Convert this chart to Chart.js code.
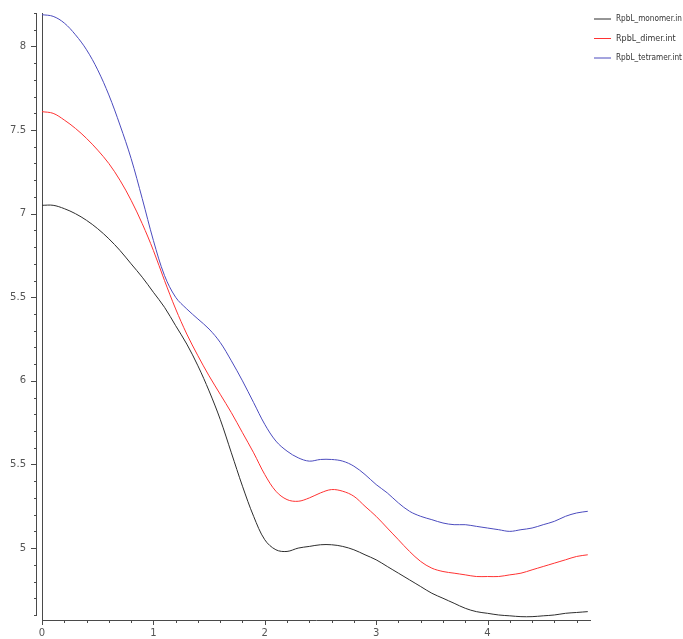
<!DOCTYPE html>
<html>
<head>
<meta charset="utf-8">
<title>RpbL</title>
<script src="https://cdn.jsdelivr.net/npm/chart.js@4"></script>
<style>
  body { margin: 0; background: #fff; }
  #wrap { width: 683px; height: 639px; }
</style>
</head>
<body>
<div id="wrap"><canvas id="plot" width="683" height="639"></canvas></div>
<script>
// x positions (step 0.1)
const xValues = [0, 0.1, 0.2, 0.3, 0.4, 0.5, 0.6, 0.7, 0.8, 0.9,
    1.0, 1.1, 1.2, 1.3, 1.4, 1.5, 1.6, 1.7, 1.8, 1.9,
    2.0, 2.1, 2.2, 2.3, 2.4, 2.5, 2.6, 2.7, 2.8, 2.9,
    3.0, 3.1, 3.2, 3.3, 3.4, 3.5, 3.6, 3.7, 3.8, 3.9,
    4.0, 4.1, 4.2, 4.3, 4.4, 4.5, 4.6, 4.7, 4.8, 4.9];

const monomer = [7.05, 7.05, 7.03, 7.00, 6.96, 6.91, 6.85, 6.78, 6.70, 6.62,
    6.53, 6.44, 6.33, 6.22, 6.09, 5.94, 5.77, 5.57, 5.37, 5.19,
    5.05, 4.99, 4.98, 5.00, 5.01, 5.02, 5.02, 5.01, 4.99, 4.96,
    4.93, 4.89, 4.85, 4.81, 4.77, 4.73, 4.70, 4.67, 4.64, 4.62,
    4.61, 4.60, 4.595, 4.59, 4.59, 4.595, 4.60, 4.61, 4.615, 4.62];

const dimer = [7.61, 7.60, 7.56, 7.51, 7.45, 7.38, 7.30, 7.20, 7.08, 6.94,
    6.78, 6.60, 6.43, 6.28, 6.15, 6.03, 5.92, 5.81, 5.69, 5.57,
    5.44, 5.34, 5.29, 5.28, 5.30, 5.33, 5.35, 5.34, 5.31, 5.25,
    5.19, 5.12, 5.05, 4.98, 4.92, 4.88, 4.86, 4.85, 4.84, 4.83,
    4.83, 4.83, 4.84, 4.85, 4.87, 4.89, 4.91, 4.93, 4.95, 4.96];

const tetramer = [8.19, 8.18, 8.14, 8.07, 7.98, 7.86, 7.71, 7.53, 7.33, 7.09,
    6.84, 6.63, 6.50, 6.43, 6.37, 6.31, 6.23, 6.12, 6.00, 5.87,
    5.74, 5.64, 5.58, 5.54, 5.52, 5.53, 5.53, 5.52, 5.49, 5.44,
    5.38, 5.33, 5.27, 5.22, 5.19, 5.17, 5.15, 5.14, 5.14, 5.13,
    5.12, 5.11, 5.10, 5.11, 5.12, 5.14, 5.16, 5.19, 5.21, 5.22];

const seriesNames = ['RpbL_monomer.in', 'RpbL_dimer.int', 'RpbL_tetramer.int'];

// labelled ticks as printed on the original plot
const yTickValues = [5, 5.5, 6, 6.5, 7, 7.5, 8];
const yTickLabels = ['5', '5.5', '6', '5.5', '7', '7.5', '8'];
const xTickValues = [0, 1, 2, 3, 4];
const xTickLabels = ['0', '1', '2', '3', '4'];

const axisColor = '#4a4a4a';
const labelColor = '#555';

function points(ys) {
    return ys.map((y, i) => ({ x: xValues[i], y: y }));
}

function stepTicks(from, to, step) {
    const out = [];
    for (let v = from; v <= to + 1e-9; v += step) {
        out.push({ value: Math.round(v * 10) / 10 });
    }
    return out;
}

function isMajor(list, v) {
    return list.some(t => Math.abs(t - v) < 1e-6);
}

// tick marks (long/short), the outer y rule and the legend
const extras = {
    id: 'extras',
    afterDraw(chart) {
        const c = chart.ctx;
        const area = chart.chartArea;
        const ys = chart.scales.y;
        const xs = chart.scales.x;
        const rule = area.left - 6;
        c.save();
        c.strokeStyle = axisColor;
        c.lineWidth = 1;
        c.beginPath();
        const lowest = ys.ticks[0].value;
        c.moveTo(rule + 0.5, area.top);
        c.lineTo(rule + 0.5, Math.round(ys.getPixelForValue(lowest)) + 1);
        ys.ticks.forEach(t => {
            const py = Math.round(ys.getPixelForValue(t.value)) + 0.5;
            const len = isMajor(yTickValues, t.value) ? 6 : 3;
            c.moveTo(rule + 1 - len, py);
            c.lineTo(rule + 1, py);
        });
        xs.ticks.forEach(t => {
            const px = Math.round(xs.getPixelForValue(t.value)) + 0.5;
            const len = isMajor(xTickValues, t.value) ? 5 : 3;
            c.moveTo(px, area.bottom);
            c.lineTo(px, area.bottom + len);
        });
        c.stroke();

        c.font = '8px "DejaVu Sans"';
        c.textBaseline = 'middle';
        c.fillStyle = '#333';
        chart.data.datasets.forEach((ds, i) => {
            const y = 19 + i * 19.5;
            c.strokeStyle = ds.borderColor;
            c.beginPath();
            c.moveTo(594, y);
            c.lineTo(611, y);
            c.stroke();
            c.fillText(ds.label, 616, y, 66);
        });
        c.restore();
    }
};

const ctx = document.getElementById('plot').getContext('2d');
const chart = new Chart(ctx, {
    type: 'line',
    data: {
        datasets: [
            { label: seriesNames[0], data: points(monomer), borderColor: 'rgb(45,45,45)' },
            { label: seriesNames[1], data: points(dimer), borderColor: 'rgb(255,50,50)' },
            { label: seriesNames[2], data: points(tetramer), borderColor: 'rgb(75,75,190)' }
        ].map(d => Object.assign(d, {
            borderWidth: 1,
            pointRadius: 0,
            fill: false,
            tension: 0.35
        }))
    },
    options: {
        responsive: false,
        animation: false,
        layout: { padding: { top: 13, right: 93, bottom: 0, left: 0 } },
        plugins: {
            legend: { display: false },
            tooltip: { enabled: false }
        },
        scales: {
            x: {
                type: 'linear',
                min: 0,
                max: 4.92,
                afterBuildTicks: s => { s.ticks = stepTicks(0, 4.8, 0.2); },
                afterFit: s => { s.height = 19; },
                // tick marks are drawn by the plugin; these only space the labels
                grid: { drawOnChartArea: false, drawTicks: true, tickLength: 6, tickColor: 'rgba(0,0,0,0)' },
                border: { display: true, color: axisColor, width: 1 },
                ticks: {
                    autoSkip: false,
                    maxRotation: 0,
                    padding: 1,
                    color: labelColor,
                    font: { family: 'DejaVu Sans', size: 10 },
                    callback: v => {
                        const i = xTickValues.findIndex(t => Math.abs(t - v) < 1e-6);
                        return i >= 0 ? xTickLabels[i] : '';
                    }
                }
            },
            y: {
                type: 'linear',
                min: 4.57,
                max: 8.2,
                afterBuildTicks: s => { s.ticks = stepTicks(4.6, 8.2, 0.1); },
                afterFit: s => { s.width = 42; },
                grid: { drawOnChartArea: false, drawTicks: true, tickLength: 12, tickColor: 'rgba(0,0,0,0)' },
                border: { display: true, color: axisColor, width: 1 },
                ticks: {
                    autoSkip: false,
                    padding: 4,
                    color: labelColor,
                    font: { family: 'DejaVu Sans', size: 10 },
                    callback: v => {
                        const i = yTickValues.findIndex(t => Math.abs(t - v) < 1e-6);
                        return i >= 0 ? yTickLabels[i] : '';
                    }
                }
            }
        }
    },
    plugins: [extras]
});
</script>
</body>
</html>
